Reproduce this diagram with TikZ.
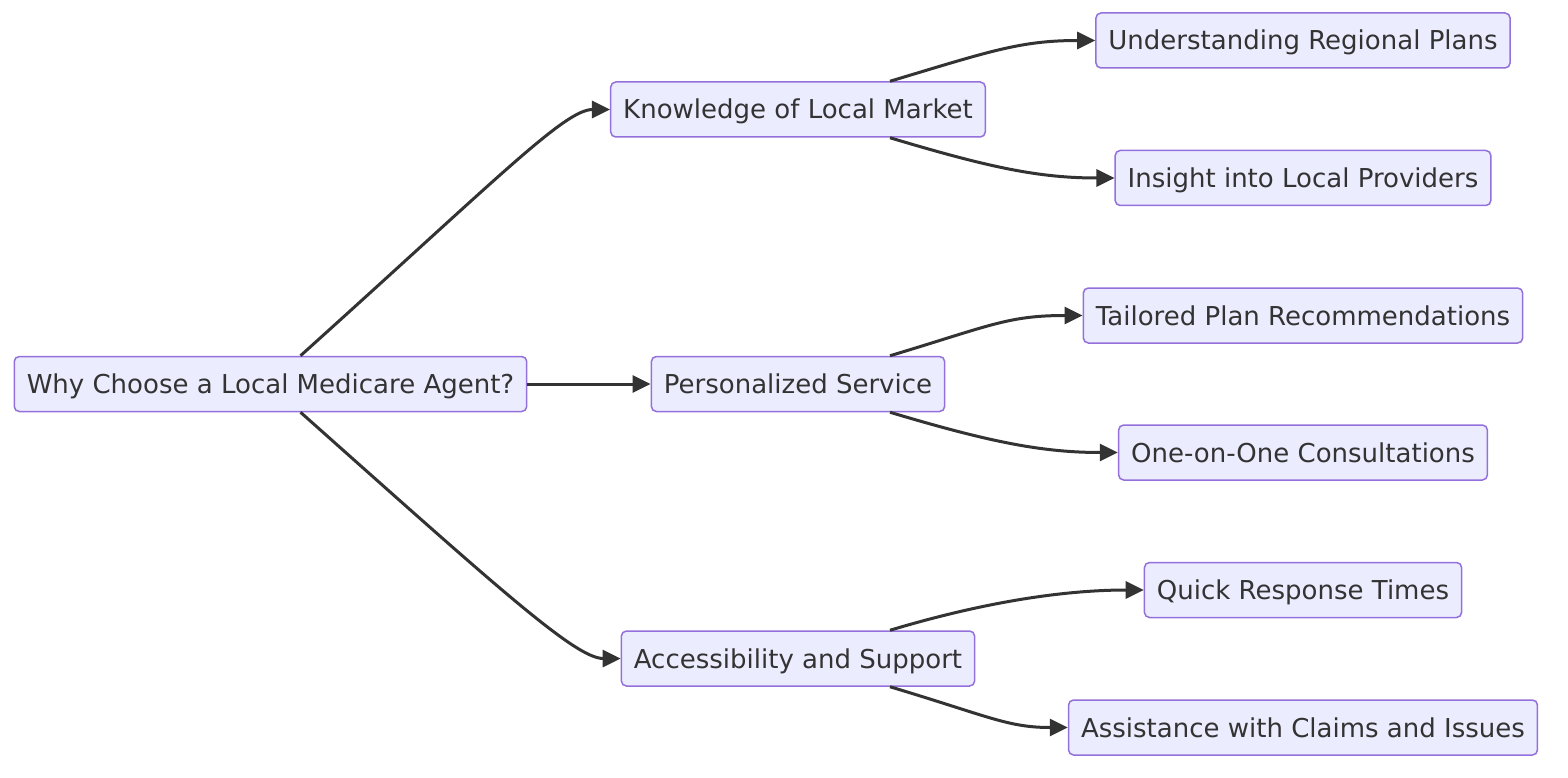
\documentclass[tikz,border=0pt]{standalone}
\usepackage{fontspec}
\setmainfont{DejaVu Sans}
\usetikzlibrary{arrows.meta}
\definecolor{nodefill}{HTML}{ECECFF}
\definecolor{nodeline}{HTML}{9370DB}
\definecolor{ink}{HTML}{333333}
\begin{document}
\begin{tikzpicture}[x=1pt,y=-1pt,
  box/.style={draw=nodeline, fill=nodefill, line width=1.5pt, rounded corners=5pt,
    minimum height=55pt, inner xsep=12.5pt, inner ysep=0pt, text=ink,
    text height=22.5pt, text depth=3.5pt,
    font=\fontsize{26}{31}\selectfont},
  link/.style={draw=ink, line width=3pt, -{Triangle[length=18pt,width=17pt]}}]
\useasboundingbox (0,0) rectangle (1568,778);
\node[box] (A) at (270.5,384) {Why Choose a Local Medicare Agent?};
\node[box] (B) at (798,109.5) {Knowledge of Local Market};
\node[box] (C) at (798,384) {Personalized Service};
\node[box] (D) at (798,658.5) {Accessibility and Support};
\node[box] (E) at (1303,40.5) {Understanding Regional Plans};
\node[box] (F) at (1303,178) {Insight into Local Providers};
\node[box] (G) at (1303,315.5) {Tailored Plan Recommendations};
\node[box] (H) at (1303,452.5) {One-on-One Consultations};
\node[box] (I) at (1303,590) {Quick Response Times};
\node[box] (J) at (1303,727.5) {Assistance with Claims and Issues};

\draw[link] ([xshift=30pt]A.north) .. controls +(200,-180) and +(-45,0) .. (B.west);
\draw[link] (A.east) -- (C.west);
\draw[link] ([xshift=30pt]A.south) .. controls +(200,178) and +(-45,0) .. (D.west);

\draw[link] ([xshift=92pt]B.north) .. controls +(100,-30) and +(-75,0) .. (E.west);
\draw[link] ([xshift=92pt]B.south) .. controls +(100,30) and +(-75,0) .. (F.west);
\draw[link] ([xshift=92pt]C.north) .. controls +(100,-30) and +(-75,0) .. (G.west);
\draw[link] ([xshift=92pt]C.south) .. controls +(100,30) and +(-75,0) .. (H.west);
\draw[link] ([xshift=92pt]D.north) .. controls +(100,-30) and +(-75,0) .. (I.west);
\draw[link] ([xshift=92pt]D.south) .. controls +(100,30) and +(-60,0) .. (J.west);
\end{tikzpicture}
\end{document}
